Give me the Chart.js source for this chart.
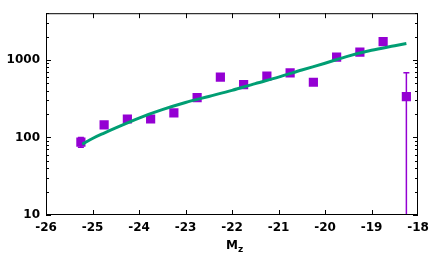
<!DOCTYPE html>
<html>
<head>
<meta charset="utf-8">
<script src="https://cdn.jsdelivr.net/npm/chart.js@4/dist/chart.umd.min.js"></script>
<style>
  html, body { margin: 0; padding: 0; background: #fff; }
  #wrap { width: 436px; height: 262px; }
</style>
</head>
<body>
<div id="wrap"><canvas id="chart" width="436" height="262"></canvas></div>
<script>
// measured points (M_z, count) with error bars
const magBins = [-25.25, -24.75, -24.25, -23.75, -23.25, -22.75, -22.25, -21.75, -21.25, -20.75, -20.25, -19.75, -19.25, -18.75, -18.25];
const counts = [87, 145, 173, 173, 207, 327, 598, 480, 616, 680, 515, 1083, 1257, 1721, 336];
const errLow = [75, 145, 173, 173, 207, 327, 598, 480, 616, 680, 515, 1083, 1257, 1721, 1];
const errHigh = [100, 145, 173, 173, 207, 327, 598, 480, 616, 680, 515, 1083, 1257, 1721, 685];

// fitted curve
const fitMag = [-25.22, -25.0, -24.75, -24.5, -24.0, -23.5, -23.0, -22.5, -22.0, -21.5, -21.0, -20.5, -20.0, -19.5, -19.0, -18.5, -18.25];
const fitVal = [82, 97, 114, 133, 178, 228, 282, 338, 405, 495, 600, 740, 905, 1120, 1330, 1520, 1625];

const xTicks = [-26, -25, -24, -23, -22, -21, -20, -19, -18];
const yTicks = [10, 100, 1000];

const purple = '#9400D3';
const green = '#009E73';
const labelFont = { family: 'DejaVu Sans', size: 12, weight: 'bold' };

const frame = {
  id: 'frame',
  afterDatasetsDraw(chart) {
    const { ctx, chartArea: a, scales: { x, y } } = chart;
    ctx.save();
    // error bars
    ctx.beginPath();
    ctx.rect(a.left, a.top, a.right - a.left, a.bottom - a.top);
    ctx.clip();
    ctx.strokeStyle = purple;
    ctx.lineWidth = 1.5;
    magBins.forEach((m, i) => {
      if (errHigh[i] === errLow[i]) return;
      const px = x.getPixelForValue(m);
      const hi = y.getPixelForValue(errHigh[i]);
      const lo = y.getPixelForValue(errLow[i]);
      ctx.beginPath();
      ctx.moveTo(px, hi); ctx.lineTo(px, lo);
      ctx.moveTo(px - 3, hi); ctx.lineTo(px + 3, hi);
      ctx.moveTo(px - 3, lo); ctx.lineTo(px + 3, lo);
      ctx.stroke();
    });
    ctx.restore();

    ctx.save();
    ctx.strokeStyle = '#000';
    ctx.lineWidth = 1;
    ctx.strokeRect(a.left + 0.5, a.top + 0.5, a.right - a.left - 1, a.bottom - a.top - 1);
    ctx.beginPath();
    xTicks.slice(1, -1).forEach(v => {
      const px = Math.round(x.getPixelForValue(v)) + 0.5;
      ctx.moveTo(px, a.bottom); ctx.lineTo(px, a.bottom - 5);
      ctx.moveTo(px, a.top); ctx.lineTo(px, a.top + 5);
    });
    yTicks.forEach(d => {
      for (let k = 1; k < 10; k++) {
        const v = d * k;
        if (v > y.max) break;
        const py = Math.round(y.getPixelForValue(v)) + 0.5;
        const len = k === 1 ? 5 : 3;
        ctx.moveTo(a.left, py); ctx.lineTo(a.left + len, py);
        ctx.moveTo(a.right, py); ctx.lineTo(a.right - len, py);
      }
    });
    ctx.stroke();

    // axis title M_z
    ctx.fillStyle = '#000';
    ctx.textBaseline = 'alphabetic';
    ctx.font = 'bold 12px "DejaVu Sans"';
    const cx = (a.left + a.right) / 2 - 6;
    ctx.fillText('M', cx, 249);
    const w = ctx.measureText('M').width;
    ctx.font = 'bold 9px "DejaVu Sans"';
    ctx.fillText('z', cx + w, 252);
    ctx.restore();
  }
};

new Chart(document.getElementById('chart'), {
  type: 'scatter',
  data: {
    datasets: [
      {
        type: 'line',
        data: fitMag.map((m, i) => ({ x: m, y: fitVal[i] })),
        borderColor: green,
        borderWidth: 3,
        pointRadius: 0,
        cubicInterpolationMode: 'monotone',
        fill: false,
        order: 1
      },
      {
        data: magBins.map((m, i) => ({ x: m, y: counts[i] })),
        pointStyle: 'rect',
        pointRadius: 6.5,
        backgroundColor: purple,
        borderColor: purple,
        borderWidth: 0,
        order: 2
      }
    ]
  },
  options: {
    responsive: false,
    animation: false,
    layout: { padding: { left: 0, right: 18, top: 13, bottom: 0 } },
    plugins: { legend: { display: false }, tooltip: { enabled: false } },
    scales: {
      x: {
        type: 'linear',
        min: -26,
        max: -18,
        afterBuildTicks: s => { s.ticks = xTicks.map(v => ({ value: v })); },
        afterFit: s => { s.height = 47; },
        grid: { display: false, drawTicks: false },
        border: { display: false },
        ticks: { color: '#000', font: labelFont, padding: 6, maxRotation: 0, autoSkip: false }
      },
      y: {
        type: 'logarithmic',
        min: 10,
        max: 4000,
        afterBuildTicks: s => { s.ticks = yTicks.map(v => ({ value: v })); },
        afterFit: s => { s.width = 46; },
        grid: { display: false, drawTicks: false },
        border: { display: false },
        ticks: { color: '#000', font: labelFont, padding: 6, callback: v => String(v) }
      }
    }
  },
  plugins: [frame]
});
</script>
</body>
</html>
